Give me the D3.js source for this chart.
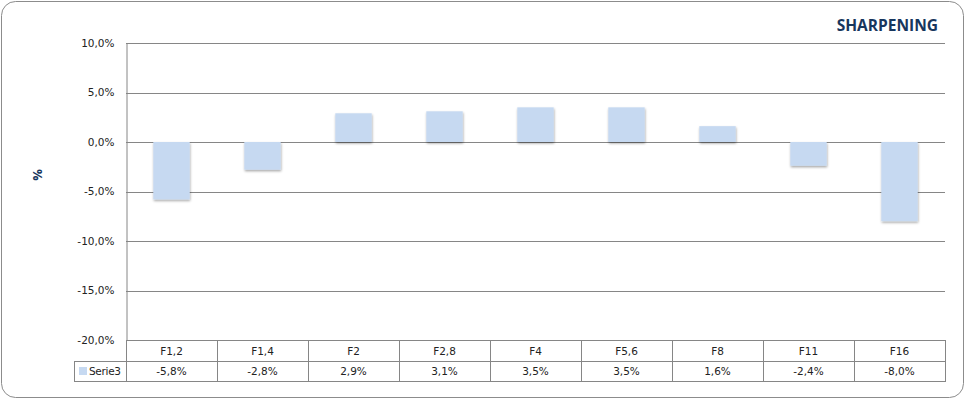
<!DOCTYPE html>
<html><head><meta charset="utf-8">
<script src="https://cdn.jsdelivr.net/npm/d3@7"></script>
<style>body{margin:0;background:#fff}svg{display:block}</style>
</head><body>
<svg id="c" width="966" height="401"></svg>
<script>
const categories = ["F1,2","F1,4","F2","F2,8","F4","F5,6","F8","F11","F16"];
const values = [-5.8,-2.8,2.9,3.1,3.5,3.5,1.6,-2.4,-8.0];
const valueLabels = ["-5,8%","-2,8%","2,9%","3,1%","3,5%","3,5%","1,6%","-2,4%","-8,0%"];
const yTicks = [10,5,0,-5,-10,-15,-20];
const seriesName = "Serie3";
const title = "SHARPENING";
const yLabel = "%";

const svg = d3.select("#c");
const font = "'DejaVu Sans', Verdana, sans-serif";
const barColor = "#c6d9f1";
const lineColor = "#868686";

svg.append("defs").append("filter").attr("id","sh")
  .attr("x","-20%").attr("y","-20%").attr("width","140%").attr("height","140%")
  .html('<feDropShadow dx="0.5" dy="1.5" stdDeviation="1" flood-color="#000" flood-opacity="0.35"/>');

svg.append("rect").attr("x",1.5).attr("y",1.5).attr("width",962).attr("height",396)
  .attr("rx",14).attr("fill","#fff").attr("stroke","#8c8c8c").attr("stroke-width",1);

const L = 126, R = 945, T = 43, B = 340;
const x = d3.scaleBand().domain(categories).range([L,R]).paddingInner(0.6).paddingOuter(0.3);
const xc = d3.scaleBand().domain(categories).range([L,R]);
const y = d3.scaleLinear().domain([-20,10]).range([B,T]);

const fmt = v => d3.format(".1f")(v).replace(".",",").replace("\u2212","-") + "%";

// gridlines
svg.append("g").selectAll("line").data(yTicks).join("line")
  .attr("x1",L).attr("x2",R)
  .attr("y1",d=>Math.round(y(d))+0.5).attr("y2",d=>Math.round(y(d))+0.5)
  .attr("stroke",lineColor).attr("stroke-width",1);

// y axis
const yAxis = d3.axisLeft(y).tickValues(yTicks).tickFormat(fmt).tickSize(0).tickPadding(12);
const ga = svg.append("g").attr("transform",`translate(${L+0.5},0)`).call(yAxis);
ga.select(".domain").attr("stroke",lineColor);
ga.selectAll("text").attr("font-family",font).attr("font-size","10.5px").attr("fill","#222");

// bars
svg.append("g").selectAll("rect").data(values).join("rect")
  .attr("x",(d,i)=>x(categories[i]))
  .attr("width",x.bandwidth())
  .attr("y",d=>y(Math.max(0,d)))
  .attr("height",d=>Math.abs(y(d)-y(0)))
  .attr("fill",barColor).attr("filter","url(#sh)");

// data table
const r1 = B, r2 = 361, r3 = 381, tl = 74;
const tg = svg.append("g").attr("stroke",lineColor).attr("stroke-width",1).attr("fill","none");
tg.append("line").attr("x1",L).attr("x2",R).attr("y1",r1+0.5).attr("y2",r1+0.5);
tg.append("line").attr("x1",tl).attr("x2",R).attr("y1",r2+0.5).attr("y2",r2+0.5);
tg.append("line").attr("x1",tl).attr("x2",R).attr("y1",r3+0.5).attr("y2",r3+0.5);
tg.append("line").attr("x1",tl+0.5).attr("x2",tl+0.5).attr("y1",r2).attr("y2",r3+1);
tg.append("line").attr("x1",L+0.5).attr("x2",L+0.5).attr("y1",r1).attr("y2",r3+1);
tg.selectAll(".v").data(categories).join("line")
  .attr("x1",d=>Math.round(xc(d)+xc.bandwidth())+0.5).attr("x2",d=>Math.round(xc(d)+xc.bandwidth())+0.5)
  .attr("y1",r1).attr("y2",r3+1);

svg.append("g").selectAll("text").data(categories).join("text")
  .attr("x",d=>xc(d)+xc.bandwidth()/2).attr("y",(r1+r2)/2+4)
  .attr("text-anchor","middle").attr("font-family",font).attr("font-size","10.5px").attr("fill","#222")
  .text(d=>d);
svg.append("g").selectAll("text").data(valueLabels).join("text")
  .attr("x",(d,i)=>xc(categories[i])+xc.bandwidth()/2).attr("y",(r2+r3)/2+4)
  .attr("text-anchor","middle").attr("font-family",font).attr("font-size","10.5px").attr("fill","#222")
  .text(d=>d);

svg.append("rect").attr("x",79).attr("y",367).attr("width",8).attr("height",8).attr("fill",barColor);
svg.append("text").attr("x",89).attr("y",(r2+r3)/2+4).attr("font-family",font).attr("font-size","10.5px")
  .attr("fill","#222").attr("letter-spacing","-0.3px").text(seriesName);

// title
svg.append("text").attr("x",938).attr("y",31).attr("text-anchor","end")
  .attr("font-family","'Open Sans', sans-serif").attr("font-weight","bold").attr("font-size","15.5px")
  .attr("fill","#17365d").text(title);

// y label
svg.append("text").attr("transform","translate(42,175) rotate(-90)").attr("text-anchor","middle")
  .attr("font-family","'Open Sans', sans-serif").attr("font-weight","bold").attr("font-size","13px")
  .attr("fill","#17365d").text(yLabel);
</script>
</body></html>
